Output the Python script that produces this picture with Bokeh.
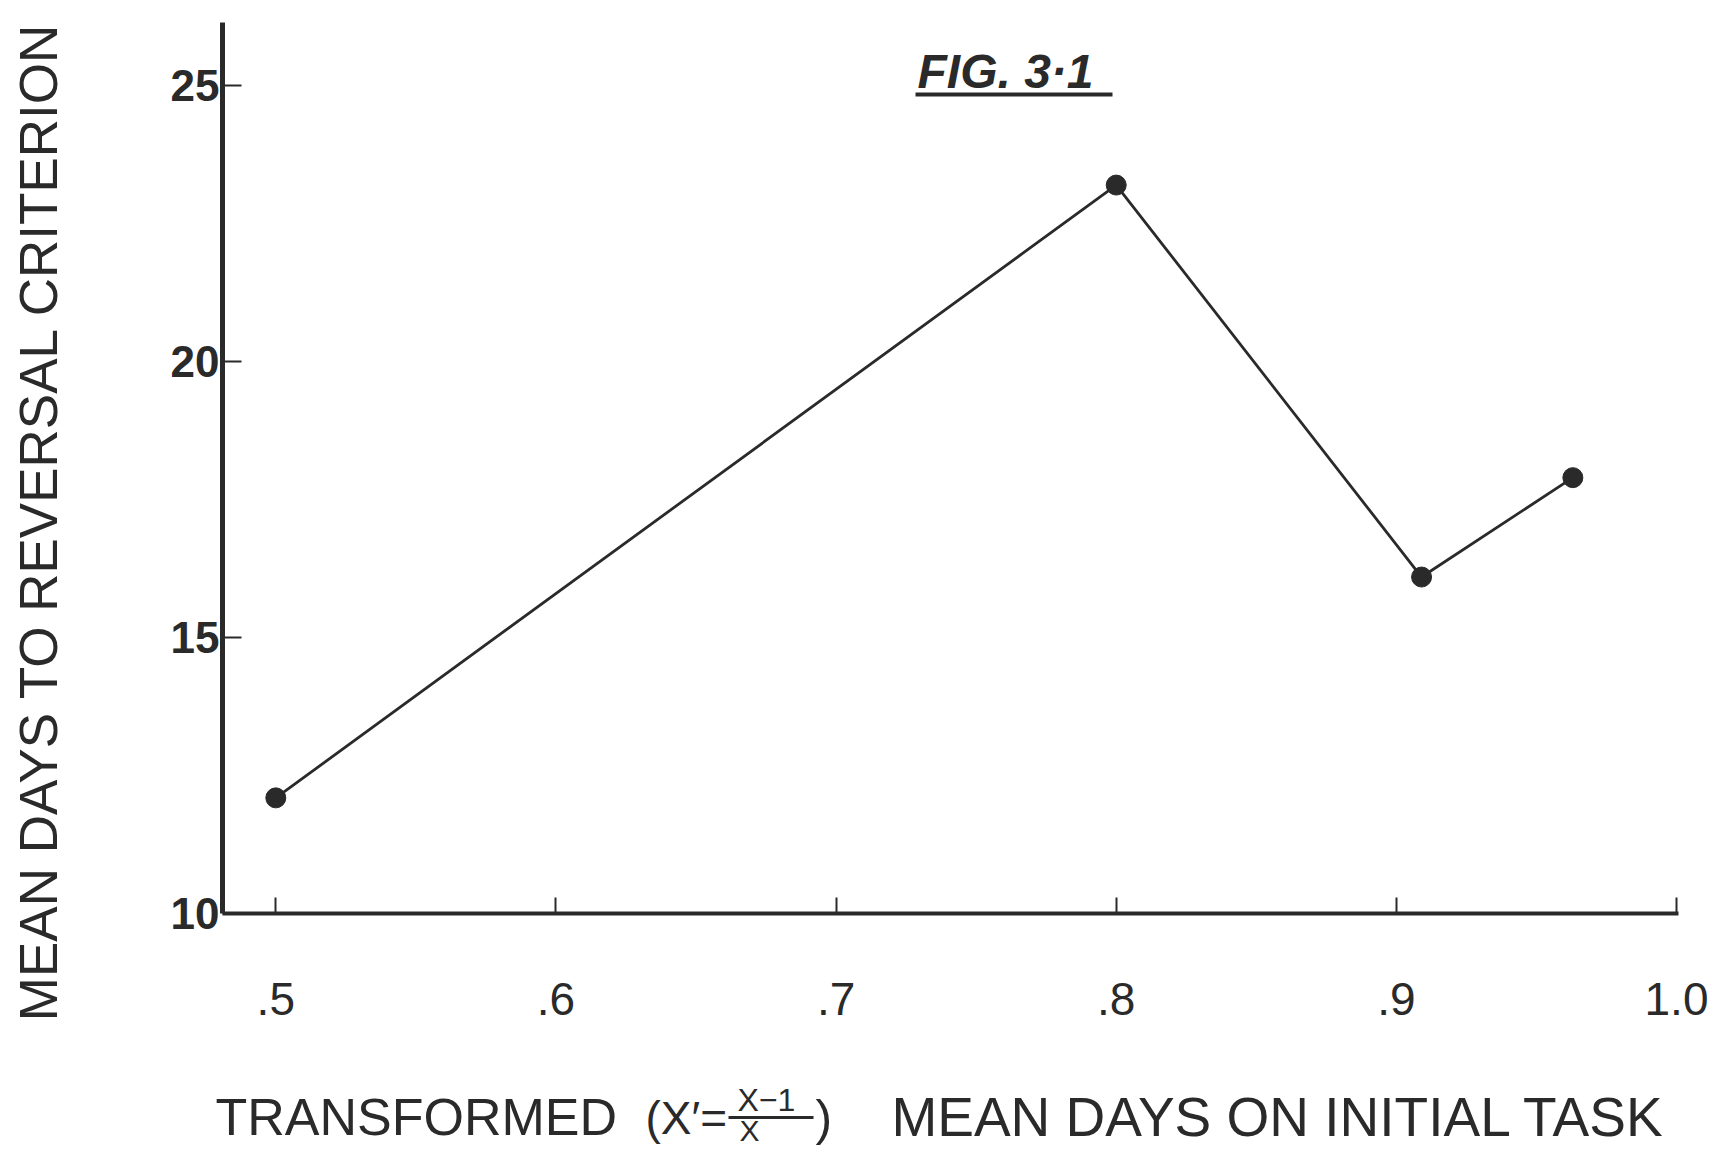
from math import pi
from bokeh.plotting import figure
from bokeh.models import Range1d, Label, Arrow, FixedTicker
from bokeh.embed import file_html
from bokeh.resources import INLINE

# ---- data ----
x_vals = [0.50, 0.80, 0.909, 0.963]
y_vals = [12.1, 23.2, 16.1, 17.9]
x_ticks = [0.5, 0.6, 0.7, 0.8, 0.9, 1.0]
x_tick_labels = [".5", ".6", ".7", ".8", ".9", "1.0"]
y_ticks = [10, 15, 20, 25]
y_title = "MEAN DAYS TO REVERSAL CRITERION"
x_title_a = "TRANSFORMED"
x_title_b = "(X′="
x_title_num = "X−1"
x_title_den = "X"
x_title_close = ")"
x_title_right = "MEAN DAYS ON INITIAL TASK"
fig_title = "FIG. 3·1"

INK = "#2a2a2a"
FONT = "Liberation Sans"
W, H = 1713, 1150

# pixel <-> data mapping of the canvas (frame covers the whole canvas,
# the axes are placed with fixed_location and bounded like in the original)
X_LO_PX, X_LO = 275.3, 0.5
X_HI_PX, X_HI = 1676.0, 1.0
Y_LO_PX, Y_LO = 913.3, 10.0
Y_HI_PX, Y_HI = 85.2, 25.0
PXX = (X_HI_PX - X_LO_PX) / (X_HI - X_LO)
PXY = (Y_LO_PX - Y_HI_PX) / (Y_HI - Y_LO)
XL = X_LO - X_LO_PX / PXX
XR = XL + W / PXX
YT = Y_HI + Y_HI_PX / PXY
YB = YT - H / PXY

def fx(px):
    return XL + px / PXX

def fy(py):
    return YT - py / PXY

AX_X0 = fx(222)      # left end of the x axis / position of the y axis
AX_X1 = fx(1678)     # right end of the x axis
AX_Y1 = fy(22)       # top end of the y axis

p = figure(width=W, height=H, output_backend="svg", toolbar_location=None,
           x_range=Range1d(XL, XR), y_range=Range1d(YB, YT),
           min_border=0, min_border_left=0, min_border_right=0,
           min_border_top=0, min_border_bottom=0)
p.outline_line_color = None
p.grid.visible = False
p.background_fill_color = "white"
p.border_fill_color = "white"

# axes
xa = p.xaxis[0]
xa.fixed_location = Y_LO
xa.bounds = (AX_X0, AX_X1)
xa.ticker = FixedTicker(ticks=x_ticks)
xa.major_label_overrides = {t: s for t, s in zip(x_ticks, x_tick_labels)}
xa.minor_tick_line_color = None
xa.major_tick_in = 16
xa.major_tick_out = 0
xa.major_tick_line_width = 2
xa.major_tick_line_color = INK
xa.axis_line_width = 4
xa.axis_line_color = INK
xa.major_label_standoff = 69
xa.major_label_text_font = FONT
xa.major_label_text_font_size = "46px"
xa.major_label_text_color = INK

ya = p.yaxis[0]
ya.fixed_location = AX_X0
ya.bounds = (Y_LO, AX_Y1)
ya.ticker = FixedTicker(ticks=y_ticks)
ya.minor_tick_line_color = None
ya.major_tick_in = 19
ya.major_tick_out = 0
ya.major_tick_line_width = 2
ya.major_tick_line_color = INK
ya.axis_line_width = 5
ya.axis_line_color = INK
ya.major_label_standoff = 3
ya.major_label_text_font = FONT
ya.major_label_text_font_style = "bold"
ya.major_label_text_font_size = "44px"
ya.major_label_text_color = INK

# data line + dots
p.line(x_vals, y_vals, line_color=INK, line_width=2.8)
p.scatter(x_vals, y_vals, size=20, fill_color=INK, line_color=INK)

def lab(text, px, py, size, align="left", angle=0, style="normal"):
    p.add_layout(Label(x=fx(px), y=fy(py), text=text, text_font=FONT, text_font_size=size,
                       text_align=align, text_baseline="middle", angle=angle,
                       text_font_style=style, text_color=INK))

def rule(px0, px1, py, width):
    p.add_layout(Arrow(x_start=fx(px0), y_start=fy(py), x_end=fx(px1), y_end=fy(py),
                       start=None, end=None, line_width=width, line_color=INK))

# y title
lab(y_title, 38, 521, "53px", align="center", angle=pi / 2)

# x title
lab(x_title_a, 215, 1116, "52px")
lab(x_title_b, 645, 1117, "46px")
lab(x_title_num, 766, 1099, "32px", align="center")
rule(728, 813, 1117, 3)
lab(x_title_den, 749, 1130, "30px", align="center")
lab(x_title_close, 815, 1117, "50px")
lab(x_title_right, 1278, 1116, "55px", align="center")

# figure title (handwritten, underlined)
lab(fig_title, 917, 71, "48px", style="bold italic")
rule(915, 1112, 94, 4)

open("out.html", "w").write(file_html(p, INLINE))
